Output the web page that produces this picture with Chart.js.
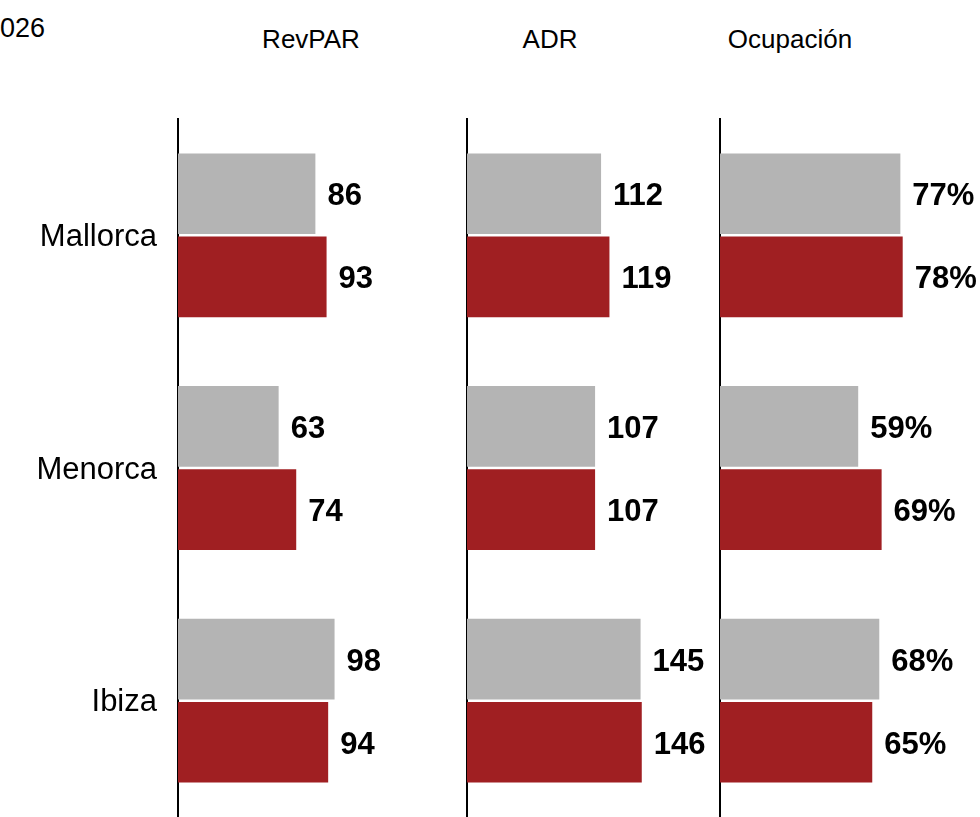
<!DOCTYPE html>
<html>
<head>
<meta charset="utf-8">
<script src="https://cdn.jsdelivr.net/npm/chart.js@4/dist/chart.umd.min.js"></script>
<style>
  html, body { margin: 0; padding: 0; background: #fff; }
  body { width: 980px; height: 817px; position: relative; overflow: hidden; font-family: "Liberation Sans", Arial, sans-serif; }
  .panel { position: absolute; top: 0; height: 817px; }
  .hdr { position: absolute; font-size: 26px; line-height: 26px; color: #000; white-space: nowrap; transform: translateX(-50%); }
  #cut { position: absolute; left: 0; top: 15px; font-size: 27px; line-height: 26px; color: #000; }
</style>
</head>
<body>
<div id="cut">026</div>
<div class="hdr" style="left:311px; top:26px;">RevPAR</div>
<div class="hdr" style="left:550px; top:26px;">ADR</div>
<div class="hdr" style="left:790px; top:26px;">Ocupación</div>

<div class="panel" style="left:0px; width:440px;"><canvas id="c1" width="440" height="817"></canvas></div>
<div class="panel" style="left:440px; width:270px;"><canvas id="c2" width="270" height="817"></canvas></div>
<div class="panel" style="left:705px; width:275px;"><canvas id="c3" width="275" height="817"></canvas></div>

<script>
// ---- data ----
const islands = ["Mallorca", "Menorca", "Ibiza"];
const seriesNames = ["2025", "2026"];
const revparPrev = [86, 63, 98];
const revparCurr = [93, 74, 94];
const adrPrev = [112, 107, 145];
const adrCurr = [119, 107, 146];
const occPrev = [77, 59, 68];
const occCurr = [78, 69, 65];

const GREY = "#b4b4b4";
const RED = "#a01f22";
const FONT = "'Liberation Sans', Arial, sans-serif";

const valueLabels = {
  id: "valueLabels",
  afterDatasetsDraw(chart, args, opts) {
    const ctx = chart.ctx;
    ctx.save();
    ctx.font = "bold 31px " + FONT;
    ctx.fillStyle = "#000";
    ctx.textAlign = "left";
    ctx.textBaseline = "middle";
    chart.data.datasets.forEach((ds, di) => {
      const meta = chart.getDatasetMeta(di);
      meta.data.forEach((bar, i) => {
        ctx.fillText(ds.data[i] + (opts.suffix || ""), bar.x + 12, bar.y + 3);
      });
    });
    ctx.restore();
  }
};

function makeChart(id, prev, curr, axisWidth, xMax, showLabels, suffix) {
  Chart.defaults.font.family = FONT;
  return new Chart(document.getElementById(id), {
    type: "bar",
    data: {
      labels: islands,
      datasets: [
        { label: seriesNames[0], data: prev, backgroundColor: GREY, categoryPercentage: 0.715, barPercentage: 0.97 },
        { label: seriesNames[1], data: curr, backgroundColor: RED, categoryPercentage: 0.715, barPercentage: 0.97 }
      ]
    },
    options: {
      indexAxis: "y",
      responsive: false,
      animation: false,
      events: [],
      layout: { padding: { top: 119, bottom: 0, left: 0, right: 0 } },
      plugins: {
        legend: { display: false },
        tooltip: { enabled: false },
        title: { display: false },
        valueLabels: { suffix: suffix }
      },
      scales: {
        x: { display: false, min: 0, max: xMax },
        y: {
          z: 1,
          grid: { display: false, drawTicks: false },
          border: { display: true, color: "#000", width: 2 },
          ticks: {
            display: showLabels,
            color: "#000",
            padding: 21,
            labelOffset: 2,
            font: { size: 31, family: FONT }
          },
          afterFit(scale) {
            scale.width = axisWidth;
            scale.paddingTop = 0;
            scale.paddingBottom = 0;
          }
        }
      }
    },
    plugins: [valueLabels]
  });
}

makeChart("c1", revparPrev, revparCurr, 178, 164, true, "");
makeChart("c2", adrPrev, adrCurr, 27, 203, false, "");
makeChart("c3", occPrev, occCurr, 15, 111, false, "%");
</script>
</body>
</html>
